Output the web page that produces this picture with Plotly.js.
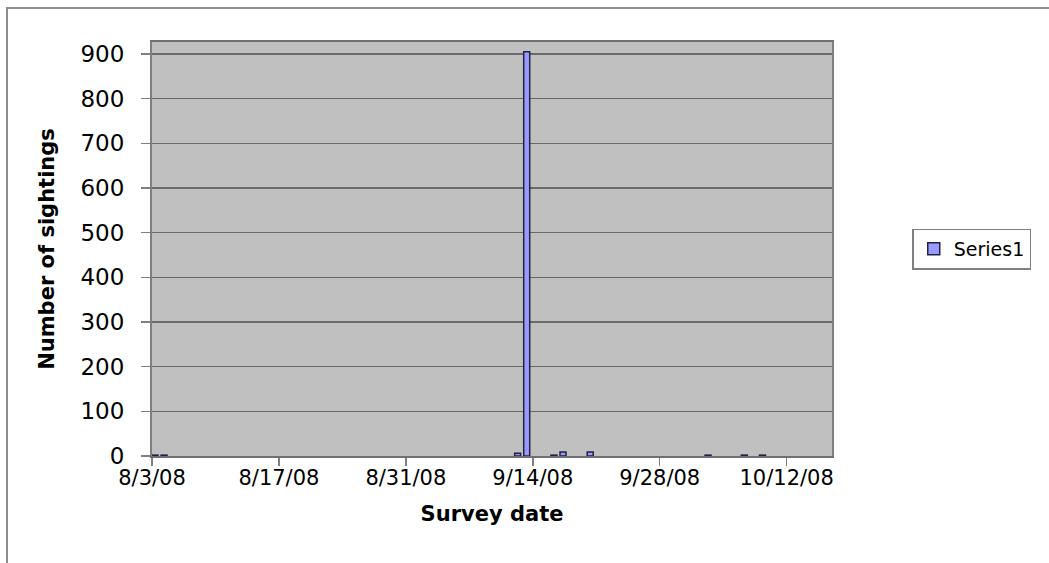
<!DOCTYPE html>
<html>
<head>
<meta charset="utf-8">
<script src="https://cdn.plot.ly/plotly-3.0.1.min.js"></script>
<style>
  html, body { margin: 0; padding: 0; background: #fff; }
  #frame { position: absolute; left: 6px; top: 7px; width: 1100px; height: 600px;
           border-left: 2px solid #8c8c8c; border-top: 2px solid #8c8c8c; }
  #chart { position: absolute; left: 0; top: 0; width: 1049px; height: 563px; }
</style>
</head>
<body>
<div id="frame"></div>
<div id="chart"></div>
<script>
// Survey dates and number of sightings
var surveyDates = ['2008-08-03', '2008-08-04', '2008-09-12', '2008-09-13', '2008-09-16',
                   '2008-09-17', '2008-09-20', '2008-10-03', '2008-10-07', '2008-10-09'];
var sightings = [2, 2, 6, 905, 2, 9, 9, 2, 2, 2];
var seriesName = 'Series1';
var xTitle = 'Survey date';
var yTitle = 'Number of sightings';

var DAY = 86400000;
var font = 'DejaVu Sans, Arial, sans-serif';

var trace = {
  type: 'bar',
  x: surveyDates,
  y: sightings,
  name: seriesName,
  width: 0.66 * DAY,
  offset: 0,
  marker: { color: '#9999FF', line: { color: '#222244', width: 1.5 } },
  showlegend: true
};

var layout = {
  width: 1049, height: 563,
  margin: { l: 152, r: 217, t: 42, b: 107 },
  paper_bgcolor: 'rgba(0,0,0,0)',
  plot_bgcolor: '#C0C0C0',
  font: { family: font, color: '#000' },
  showlegend: true,
  legend: {
    x: 1.118, xanchor: 'left', y: 0.5, yanchor: 'middle',
    bgcolor: '#fff', bordercolor: '#808080', borderwidth: 1.5,
    font: { size: 19, family: font },
    itemwidth: 30
  },
  xaxis: {
    type: 'date',
    range: ['2008-08-03', '2008-10-17'],
    tick0: '2008-08-03',
    dtick: 14 * DAY,
    tickformat: '%-m/%-d/%y',
    ticks: 'outside', ticklen: 8, tickcolor: '#808080', tickwidth: 1.5,
    ticklabelstandoff: -6,
    showgrid: false,
    showline: true, linecolor: '#707070', linewidth: 2, mirror: true,
    tickfont: { size: 21, family: font },
    title: { text: xTitle, font: { size: 21, family: font, weight: 'bold' }, standoff: 17 },
    zeroline: false
  },
  yaxis: {
    range: [0, 927],
    dtick: 100,
    ticks: 'outside', ticklen: 9, tickcolor: '#808080', tickwidth: 1.5,
    ticklabelstandoff: 12,
    showgrid: true, gridcolor: '#6a6a6a', gridwidth: 1.5,
    showline: true, linecolor: '#808080', linewidth: 2, mirror: true,
    tickfont: { size: 23, family: font },
    title: { text: yTitle, font: { size: 21, family: font, weight: 'bold' }, standoff: 20 },
    zeroline: false
  },
  bargap: 0
};

Plotly.newPlot('chart', [trace], layout, { displayModeBar: false, staticPlot: true });
</script>
</body>
</html>
